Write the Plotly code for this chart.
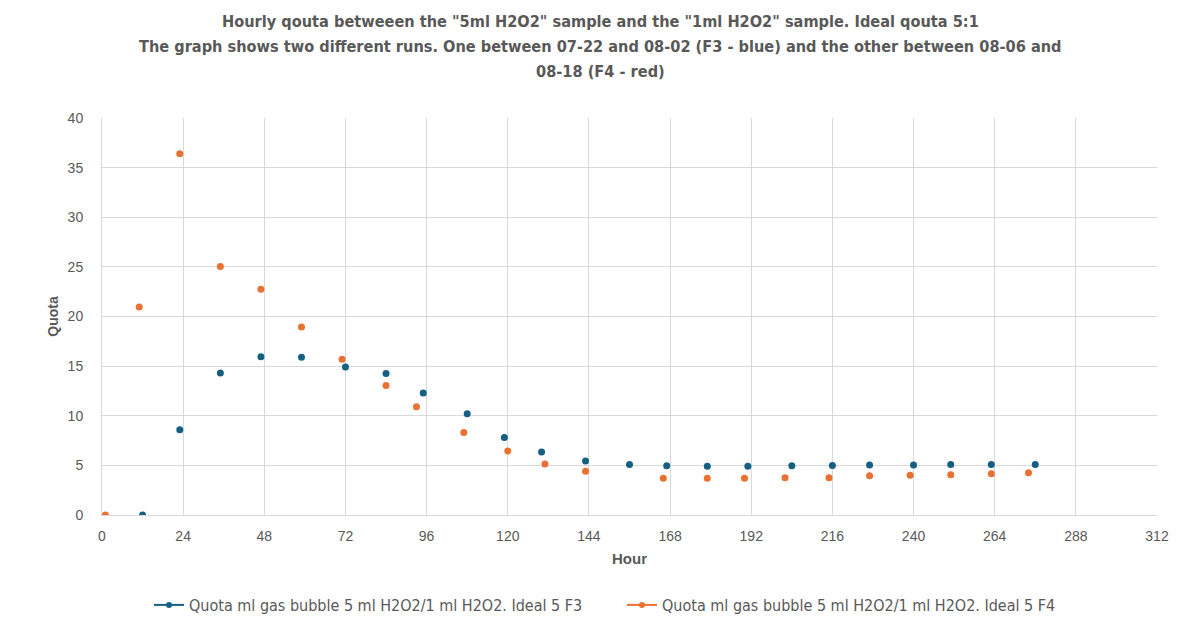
import plotly.graph_objects as go

# Data
hours_f3 = [12, 23, 35, 47, 59, 72, 84, 95, 108, 119, 130, 143, 156, 167, 179, 191, 204, 216, 227, 240, 251, 263, 276]
quota_f3 = [0, 8.6, 14.3, 15.95, 15.9, 14.9, 14.25, 12.3, 10.2, 7.8, 6.35, 5.45, 5.1, 4.95, 4.9, 4.9, 4.95, 5.0, 5.05, 5.05, 5.1, 5.1, 5.1]

hours_f4 = [1, 11, 23, 35, 47, 59, 71, 84, 93, 107, 120, 131, 143, 166, 179, 190, 202, 215, 227, 239, 251, 263, 274]
quota_f4 = [0, 20.95, 36.4, 25.05, 22.75, 18.95, 15.7, 13.05, 10.9, 8.3, 6.45, 5.15, 4.4, 3.7, 3.7, 3.7, 3.75, 3.75, 3.95, 4.0, 4.05, 4.15, 4.25]

name_f3 = "Quota ml gas bubble 5 ml H2O2/1 ml H2O2. Ideal 5 F3"
name_f4 = "Quota ml gas bubble 5 ml H2O2/1 ml H2O2. Ideal 5 F4"

x_ticks = [0, 24, 48, 72, 96, 120, 144, 168, 192, 216, 240, 264, 288, 312]
y_ticks = [0, 5, 10, 15, 20, 25, 30, 35, 40]

title_lines = [
    'Hourly qouta betweeen the "5ml H2O2" sample and the "1ml H2O2" sample. Ideal qouta 5:1',
    'The graph shows two different runs. One between 07-22 and 08-02 (F3 - blue) and the other between 08-06 and',
    '08-18 (F4 - red)',
]

BLUE = "#156082"
ORANGE = "#E97132"
TXT = "#595959"
GRID = "#D9D9D9"
NARROW = "DejaVu Sans Condensed, Liberation Sans Narrow, sans-serif"
REG = "Liberation Sans, Arial, sans-serif"

W, H = 1200, 627
ML, MR, MT, MB = 102, 43, 118, 112
plot_top, plot_bot = MT, H - MB
page_center_x = (W / 2 - ML) / (W - ML - MR)

fig = go.Figure()
fig.add_trace(go.Scatter(x=hours_f3, y=quota_f3, mode="markers", name=name_f3,
                         marker=dict(color=BLUE, size=7), showlegend=False))
fig.add_trace(go.Scatter(x=hours_f4, y=quota_f4, mode="markers", name=name_f4,
                         marker=dict(color=ORANGE, size=7), showlegend=False))
# legend entries (line + marker look, as in the original)
fig.add_trace(go.Scatter(x=[None], y=[None], mode="lines+markers", name=name_f3,
                         line=dict(color=BLUE, width=2), marker=dict(color=BLUE, size=6)))
fig.add_trace(go.Scatter(x=[None], y=[None], mode="lines+markers", name=name_f4,
                         line=dict(color=ORANGE, width=2), marker=dict(color=ORANGE, size=6)))

# title lines, centred on the page
for line, ypx in zip(title_lines, [22, 46, 71]):
    fig.add_annotation(text="<b>" + line + "</b>", x=page_center_x, xref="paper", xanchor="center",
                       y=(plot_bot - ypx) / (plot_bot - plot_top), yref="paper", yanchor="middle",
                       showarrow=False, font=dict(family=NARROW, size=16.2, color=TXT))

fig.update_layout(
    width=W, height=H,
    margin=dict(l=ML, r=MR, t=MT, b=MB, autoexpand=False),
    paper_bgcolor="white", plot_bgcolor="white",
    legend=dict(orientation="h", x=(149 - ML) / (W - ML - MR), xanchor="left",
                y=(plot_bot - 605) / (plot_bot - plot_top), yanchor="middle",
                font=dict(family=NARROW, size=16, color=TXT), entrywidth=428,
                itemwidth=30),
    xaxis=dict(range=[0, 312], tickvals=x_ticks, ticktext=[str(v) for v in x_ticks],
               showgrid=True, gridcolor=GRID, gridwidth=1, zeroline=False,
               showline=True, linecolor=GRID, linewidth=1, mirror=False,
               ticks="", tickfont=dict(family=REG, size=14, color=TXT), ticklabelstandoff=8,
               title=dict(text="Hour", font=dict(family=REG, size=15, color=TXT, weight="bold"), standoff=10)),
    yaxis=dict(range=[0, 40], tickvals=y_ticks, ticktext=[str(v) for v in y_ticks],
               showgrid=True, gridcolor=GRID, gridwidth=1, zeroline=False,
               showline=True, linecolor=GRID, linewidth=1,
               ticks="", tickfont=dict(family=REG, size=14, color=TXT), ticklabelstandoff=15,
               title=dict(text="Quota", font=dict(family=REG, size=14, color=TXT, weight="bold"), standoff=5)),
)

fig.write_html("out.html")
